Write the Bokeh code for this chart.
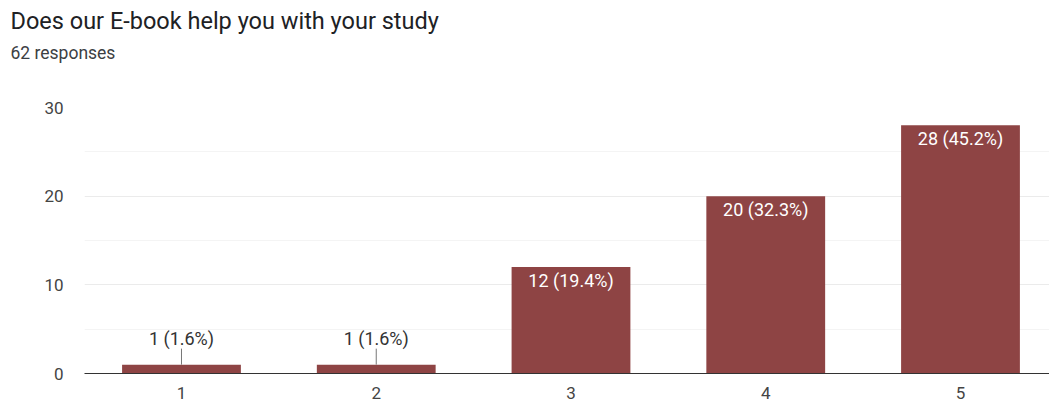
from bokeh.plotting import figure
from bokeh.models import ColumnDataSource, FixedTicker, Title, Range1d
from bokeh.core.properties import value
from bokeh.embed import file_html
from bokeh.resources import INLINE

title_text = "Does our E-book help you with your study"
subtitle_text = "62 responses"
categories = [1, 2, 3, 4, 5]
counts = [1, 1, 12, 20, 28]
percents = ["1.6%", "1.6%", "19.4%", "32.3%", "45.2%"]
y_ticks = [0, 10, 20, 30]

BAR_COLOR = "#8e4444"
FONT = "Roboto"

labels = [f"{c} ({p})" for c, p in zip(counts, percents)]

FRAME_H = 266
p = figure(width=1049, height=402, output_backend="svg", toolbar_location=None,
           x_range=Range1d(0.502, 5.457), y_range=Range1d(0, 30),
           min_border_left=84, min_border_right=0, min_border_bottom=29, min_border_top=107,
           outline_line_color=None)

# spacer between subtitle and plot area
p.add_layout(Title(text=" ", standoff=39, text_font_size="2px"), "above")
p.add_layout(Title(text=subtitle_text, align="left", offset=-74, standoff=4,
                   text_font=FONT, text_font_size="17.5px", text_font_style="normal",
                   text_color="#3c4043"), "above")
p.add_layout(Title(text=title_text, align="left", offset=-74, standoff=8,
                   text_font=FONT, text_font_size="23.5px", text_font_style="normal",
                   text_color="#202124"), "above")

p.vbar(x=categories, top=counts, width=0.61, bottom=0, color=BAR_COLOR, line_color=None)

# labels
px_per_unit = FRAME_H / 30.0
inside = {"x": [], "y": [], "t": []}
outside = {"x": [], "y": [], "t": [], "y1": []}
for c, v, t in zip(categories, counts, labels):
    if v >= 5:
        inside["x"].append(c); inside["y"].append(v); inside["t"].append(t)
    else:
        outside["x"].append(c); outside["y"].append(v); outside["t"].append(t)
        outside["y1"].append(v + 16 / px_per_unit)

p.text(x="x", y="y", text="t", source=ColumnDataSource(inside), text_align="center",
       text_baseline="middle", y_offset=13, text_color="#ffffff",
       text_font=value(FONT), text_font_size="18px")
p.segment(x0="x", y0="y", x1="x", y1="y1", source=ColumnDataSource(outside),
          line_color="#777777", line_width=1)
p.text(x="x", y="y", text="t", source=ColumnDataSource(outside), text_align="center",
       text_baseline="middle", y_offset=-26, text_color="#333333",
       text_font=value(FONT), text_font_size="18px")

# axes
p.xaxis.ticker = FixedTicker(ticks=categories)
p.xaxis.axis_line_color = "#333333"
p.xaxis.major_tick_line_color = None
p.xaxis.minor_tick_line_color = None
p.xaxis.major_label_standoff = 7
p.xaxis.major_label_text_font = FONT
p.xaxis.major_label_text_font_size = "17px"
p.xaxis.major_label_text_color = "#444444"

p.yaxis.ticker = FixedTicker(ticks=y_ticks, minor_ticks=[5, 15, 25])
p.yaxis.axis_line_color = None
p.yaxis.major_tick_line_color = None
p.yaxis.minor_tick_line_color = None
p.yaxis.major_label_standoff = 15
p.yaxis.major_label_text_font = FONT
p.yaxis.major_label_text_font_size = "17px"
p.yaxis.major_label_text_color = "#444444"

p.xgrid.grid_line_color = None
p.ygrid.grid_line_color = "#ebebeb"
p.ygrid.minor_grid_line_color = "#f4f4f4"

open("out.html", "w").write(file_html(p, INLINE))
